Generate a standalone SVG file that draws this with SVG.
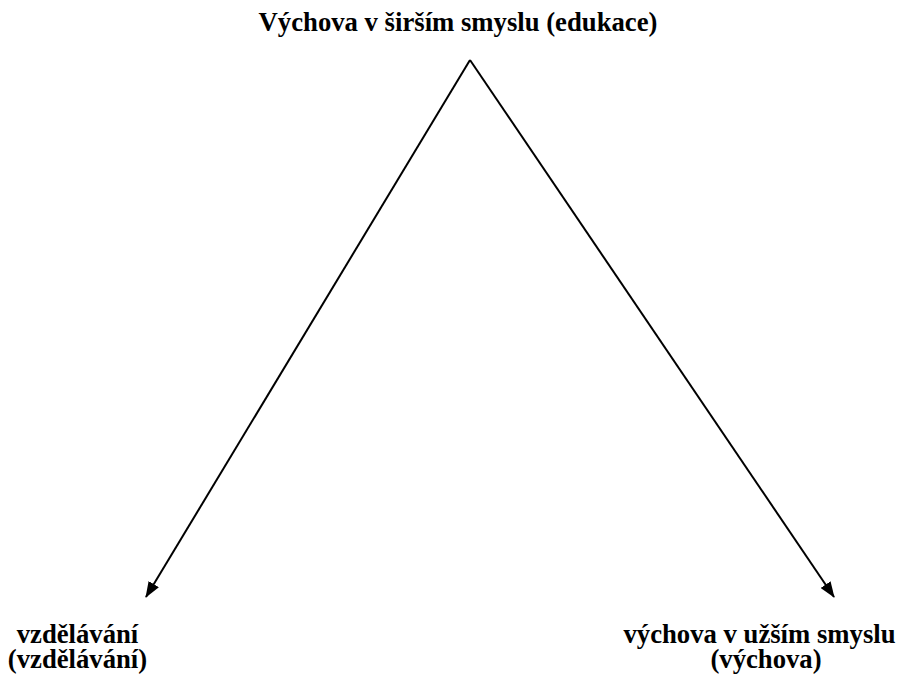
<svg xmlns="http://www.w3.org/2000/svg" width="901" height="682" viewBox="0 0 901 682">
<style>
.t{font-family:"Liberation Serif","Times New Roman",serif;font-weight:bold;font-size:26.7px;fill:#000}
.c{stroke:#000;stroke-width:2;fill:none}
</style>
<defs>
<marker id="ah" markerWidth="16" markerHeight="12" refX="15" refY="6" orient="auto" markerUnits="userSpaceOnUse">
<path d="M0,0 L16,6 L0,12 Z" fill="#000"/>
</marker>
</defs>
<rect width="901" height="682" fill="#fff"/>
<g id="top"><text class="t" x="458" y="31" text-anchor="middle">Výchova v širším smyslu (edukace)</text></g>
<g id="left"><text class="t" x="77.5" y="643" text-anchor="middle">vzdělávání</text><text class="t" x="77.5" y="668" text-anchor="middle">(vzdělávání)</text></g>
<g id="right"><text class="t" x="759.5" y="643" text-anchor="middle">výchova v užším smyslu</text><text class="t" x="766" y="668" text-anchor="middle">(výchova)</text></g>
<g id="connectors">
<path class="c" d="M470,60 L146,597" marker-end="url(#ah)"/>
<path class="c" d="M470,60 L834,597" marker-end="url(#ah)"/>
</g>
</svg>
